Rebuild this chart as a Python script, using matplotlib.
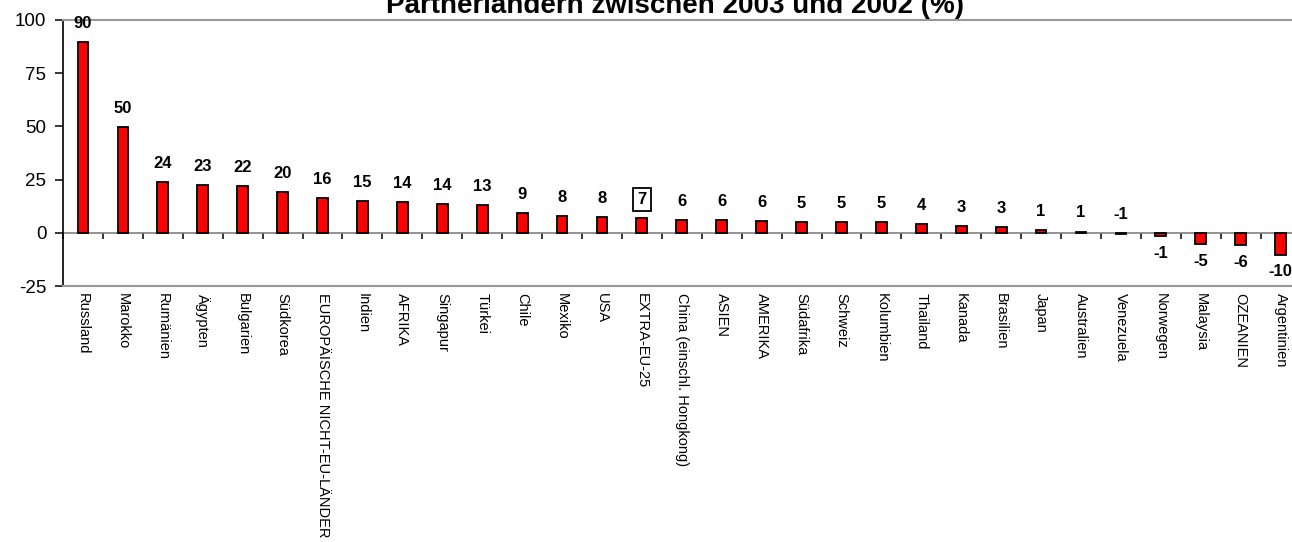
import matplotlib
matplotlib.use("Agg")
import matplotlib.pyplot as plt
import numpy as np

plt.rcParams["font.family"] = ["Liberation Sans", "DejaVu Sans"]
plt.rcParams["axes.unicode_minus"] = False

# --- data --- #

countries = [
    "Russland", "Marokko", "Rumänien", "Ägypten", "Bulgarien", "Südkorea",
    "EUROPÄISCHE NICHT-EU-LÄNDER", "Indien", "AFRIKA", "Singapur", "Türkei",
    "Chile", "Mexiko", "USA", "EXTRA-EU-25", "China (einschl. Hongkong)",
    "ASIEN", "AMERIKA", "Südafrika", "Schweiz", "Kolumbien", "Thailand",
    "Kanada", "Brasilien", "Japan", "Australien", "Venezuela", "Norwegen",
    "Malaysia", "OZEANIEN", "Argentinien",
]
growth = [
    89.8, 49.8, 23.7, 22.4, 21.8, 19.3,
    16.2, 14.9, 14.3, 13.6, 13.1,
    9.3, 8.0, 7.4, 6.8, 6.1,
    6.1, 5.5, 4.9, 4.9, 4.9, 4.2,
    3.0, 2.5, 1.3, 0.6, -0.6, -1.4,
    -5.2, -5.8, -10.2,
]
shown = [
    "90", "50", "24", "23", "22", "20",
    "16", "15", "14", "14", "13",
    "9", "8", "8", "7", "6",
    "6", "6", "5", "5", "5", "4",
    "3", "3", "1", "1", "-1", "-1",
    "-5", "-6", "-10",
]
highlight = "EXTRA-EU-25"
yticks = [-25, 0, 25, 50, 75, 100]

title = "Partnerländern zwischen 2003 und 2002 (%)"

fig = plt.figure(figsize=(12.92, 5.42), dpi=100)
ax = fig.add_axes([0.0488, 0.4723, 0.9578, 0.4908])

x = np.arange(len(countries))
ax.bar(x, growth, width=0.27, color="#FF0000", edgecolor="black", linewidth=1.3, zorder=3)

# value labels above (or below for clearly negative) bars
for xi, v, s, name in zip(x, growth, shown, countries):
    if v > -1:
        y0, dy, va = max(v, 0), 8, "bottom"
    else:
        y0, dy, va = v, -7, "top"
    box = None
    if name == highlight:
        box = dict(boxstyle="square,pad=0.25", fc="white", ec="black", lw=1.3)
    ax.annotate(s, (xi, y0), xytext=(0, dy), textcoords="offset points",
                ha="center", va=va, fontsize=12, fontweight="bold", bbox=box)

ax.set_xlim(-0.5, len(countries) - 0.5)
ax.set_ylim(-25, 100)
ax.set_yticks(yticks)
ax.tick_params(axis="y", labelsize=13.5, length=6, width=1.1, pad=6, direction="out")

ax.set_xticks(x)
ax.set_xticklabels(countries, rotation=270, fontsize=10.5, ha="center", va="top")
ax.tick_params(axis="x", length=0, pad=5)

for side in ("top", "bottom", "right"):
    ax.spines[side].set_color("#999999")
    ax.spines[side].set_linewidth(1.5)
ax.spines["left"].set_color("black")
ax.spines["left"].set_linewidth(1.2)

# zero line with category separators
zero = ax.secondary_xaxis(25 / 125)
zero.set_xticks(np.arange(len(countries) + 1) - 0.5)
zero.set_xticklabels([])
zero.tick_params(length=4, width=1.1, direction="out", color="black")
zero.spines["bottom"].set_color("#808080")
zero.spines["bottom"].set_linewidth(1.2)

fig.text(675 / 1292, 1 - 13 / 542, title, ha="center", va="baseline",
         fontsize=20, fontweight="bold")

fig.savefig("out.png", dpi=100)
